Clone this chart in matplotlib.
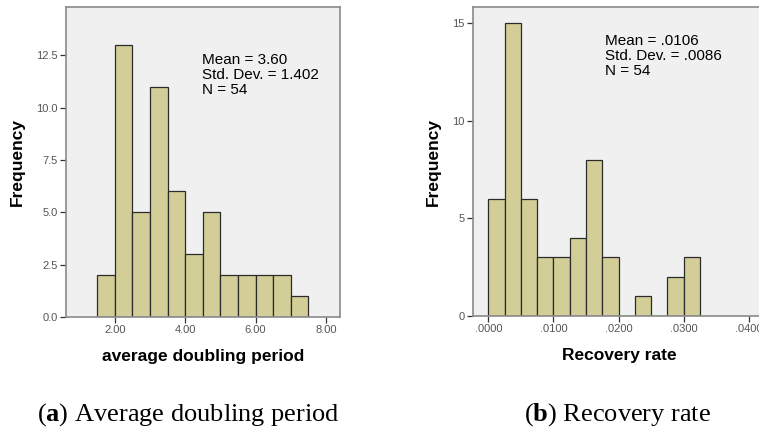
import matplotlib
matplotlib.use("Agg")
import matplotlib.pyplot as plt
import numpy as np

# ---- data ----
doubling_edges = [1.5, 2.0, 2.5, 3.0, 3.5, 4.0, 4.5, 5.0, 5.5, 6.0, 6.5, 7.0, 7.5]
doubling_counts = [2, 13, 5, 11, 6, 3, 5, 2, 2, 2, 2, 1]
doubling_xticks = [2.0, 4.0, 6.0, 8.0]
doubling_xticklabels = ["2.00", "4.00", "6.00", "8.00"]
doubling_yticks = [0.0, 2.5, 5.0, 7.5, 10.0, 12.5]
doubling_yticklabels = ["0.0", "2.5", "5.0", "7.5", "10.0", "12.5"]
doubling_stats = "Mean = 3.60\nStd. Dev. = 1.402\nN = 54"

recovery_edges = [0.0, 0.0025, 0.005, 0.0075, 0.01, 0.0125, 0.015, 0.0175,
                  0.02, 0.0225, 0.025, 0.0275, 0.03, 0.0325]
recovery_counts = [6, 15, 6, 3, 3, 4, 8, 3, 0, 1, 0, 2, 3]
recovery_xticks = [0.0, 0.01, 0.02, 0.03, 0.04]
recovery_xticklabels = [".0000", ".0100", ".0200", ".0300", ".0400"]
recovery_yticks = [0, 5, 10, 15]
recovery_yticklabels = ["0", "5", "10", "15"]
recovery_stats = "Mean = .0106\nStd. Dev. = .0086\nN = 54"

# ---- style ----
BAR = "#d3ce97"
EDGE = "#2b2b2b"
BG = "#f0f0f0"
FRAME = "#8a8a8a"
TICKLBL = "#555555"
SANS = "Liberation Sans"
SERIF = "Liberation Serif"

plt.rcParams["mathtext.fontset"] = "custom"
plt.rcParams["mathtext.rm"] = "Liberation Serif"
plt.rcParams["mathtext.bf"] = "Liberation Serif:bold"

W, H = 759, 428
fig = plt.figure(figsize=(W / 100, H / 100), dpi=100)


def px_axes(x0, y0, x1, y1):
    return fig.add_axes([x0 / W, 1 - y1 / H, (x1 - x0) / W, (y1 - y0) / H])


def style(ax, xticks, xlabels, yticks, ylabels, xlabel):
    ax.set_facecolor(BG)
    for s in ax.spines.values():
        s.set_color(FRAME)
        s.set_linewidth(1.2)
    ax.set_xticks(xticks)
    ax.set_xticklabels(xlabels, fontfamily=SANS, fontsize=8, color=TICKLBL)
    ax.set_yticks(yticks)
    ax.set_yticklabels(ylabels, fontfamily=SANS, fontsize=8, color=TICKLBL)
    ax.tick_params(axis="both", direction="out", length=4, width=0.9,
                   color="#333333", pad=2)
    ax.set_ylabel("Frequency", fontfamily=SANS, fontsize=12.5,
                  fontweight="bold", labelpad=8)
    ax.set_xlabel(xlabel, fontfamily=SANS, fontsize=12.5,
                  fontweight="bold", labelpad=10)


# left panel
ax1 = px_axes(66, 7, 340, 317)
centers1 = [(a + b) / 2 for a, b in zip(doubling_edges[:-1], doubling_edges[1:])]
ax1.hist(centers1, bins=doubling_edges, weights=doubling_counts,
         color=BAR, edgecolor=EDGE, linewidth=0.9, zorder=2)
ax1.set_xlim(0.61, 8.40)
ax1.set_ylim(0, 14.8)
style(ax1, doubling_xticks, doubling_xticklabels, doubling_yticks,
      doubling_yticklabels, "average doubling period")
ax1.text(0.496, 0.852, doubling_stats, transform=ax1.transAxes,
         fontfamily=SANS, fontsize=11, va="top", ha="left", linespacing=1.1)

# right panel (extends beyond the right edge of the figure)
ax2 = px_axes(473, 7, 765, 316)
centers2 = [(a + b) / 2 for a, b in zip(recovery_edges[:-1], recovery_edges[1:])]
ax2.hist(centers2, bins=recovery_edges, weights=recovery_counts,
         color=BAR, edgecolor=EDGE, linewidth=0.9, zorder=2)
ax2.set_xlim(-0.00235, 0.0425)
ax2.set_ylim(0, 15.82)
style(ax2, recovery_xticks, recovery_xticklabels, recovery_yticks,
      recovery_yticklabels, "Recovery rate")
ax2.text(0.453, 0.912, recovery_stats, transform=ax2.transAxes,
         fontfamily=SANS, fontsize=11, va="top", ha="left", linespacing=1.1)

# captions
fig.text(37 / W, 1 - 421 / H, r"($\mathbf{a}$) Average doubling period",
         fontfamily=SERIF, fontsize=19, ha="left", va="baseline")
fig.text(524 / W, 1 - 421 / H, r"($\mathbf{b}$) Recovery rate",
         fontfamily=SERIF, fontsize=19, ha="left", va="baseline")

fig.savefig("out.png", dpi=100)
